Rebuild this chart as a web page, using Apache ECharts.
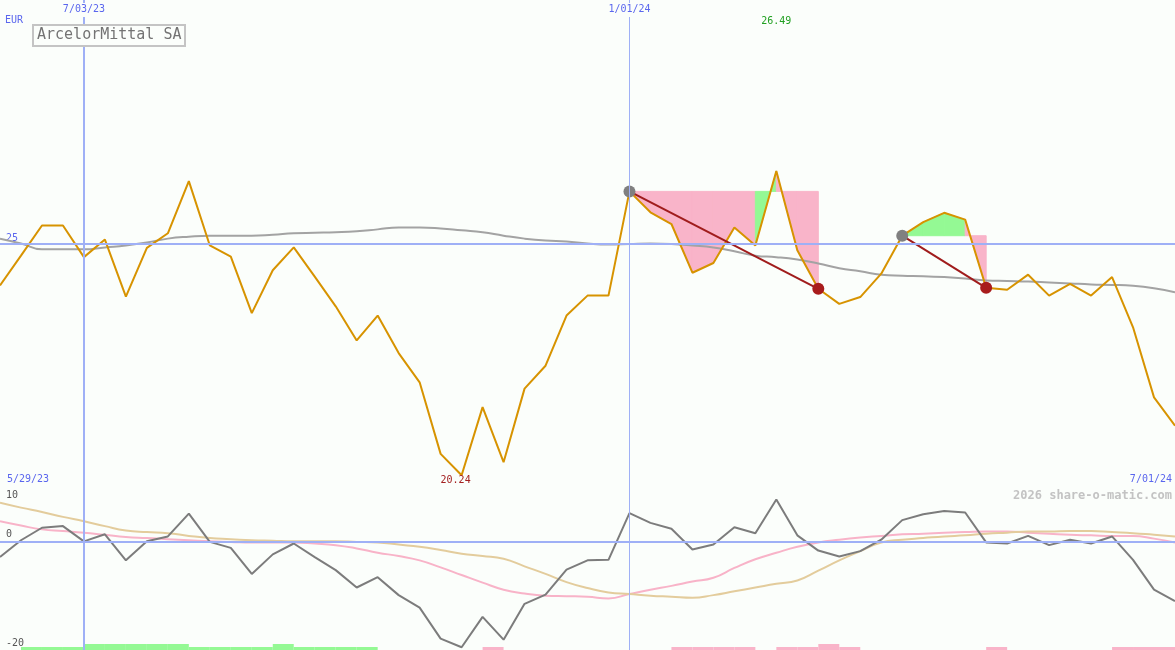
<!DOCTYPE html>
<html><head><meta charset="utf-8">
<script src="https://cdn.jsdelivr.net/npm/echarts@6/dist/echarts.min.js"></script>
<style>html,body{margin:0;padding:0;background:#fbfefb}#c{width:1175px;height:650px}</style>
</head><body><div id="c"></div>
<script>
const dates = ['6/05/23','6/12/23','6/19/23','6/26/23','7/03/23','7/10/23','7/17/23','7/24/23','7/31/23','8/07/23',
'8/14/23','8/21/23','8/28/23','9/04/23','9/11/23','9/18/23','9/25/23','10/02/23','10/09/23','10/16/23',
'10/23/23','10/30/23','11/06/23','11/13/23','11/20/23','11/27/23','12/04/23','12/11/23','12/18/23','12/25/23',
'1/01/24','1/08/24','1/15/24','1/22/24','1/29/24','2/05/24','2/12/24','2/19/24','2/26/24','3/04/24',
'3/11/24','3/18/24','3/25/24','4/01/24','4/08/24','4/15/24','4/22/24','4/29/24','5/06/24','5/13/24',
'5/20/24','5/27/24','6/03/24','6/10/24','6/17/24','6/24/24','7/01/24'];
const markedDates = ['7/03/23','1/01/24'];
const price = [24.14,24.75,25.37,25.37,24.72,25.08,23.91,24.91,25.21,26.28,
24.96,24.73,23.57,24.45,24.92,24.32,23.71,23.01,23.52,22.75,
22.15,20.68,20.24,21.64,20.51,22.02,22.49,23.52,23.93,23.93,
26.07,25.64,25.40,24.40,24.60,25.33,24.96,26.49,24.86,24.07,
23.76,23.90,24.38,25.16,25.44,25.63,25.49,24.09,24.05,24.36,
23.93,24.17,23.93,24.31,23.28,21.84,21.26];
const priceMA = [25.10,25.00,24.88,24.88,24.88,24.92,24.96,25.02,25.10,25.14,
25.16,25.16,25.16,25.18,25.21,25.22,25.23,25.25,25.29,25.33,
25.33,25.31,25.27,25.23,25.16,25.10,25.06,25.04,25.00,24.98,
24.99,25.00,24.99,24.96,24.92,24.84,24.75,24.72,24.67,24.59,
24.49,24.43,24.36,24.34,24.33,24.31,24.28,24.24,24.23,24.22,
24.20,24.18,24.16,24.15,24.13,24.08,24.00];
const momentum = [-2.9,0.2,2.5,2.8,0.0,1.3,-3.5,0.0,0.9,5.1,
-0.1,-1.2,-6.0,-2.4,-0.4,-2.9,-5.3,-8.5,-6.6,-9.9,
-12.2,-17.9,-19.5,-13.9,-18.1,-11.5,-9.8,-5.2,-3.5,-3.4,
5.2,3.4,2.3,-1.5,-0.6,2.6,1.5,7.7,1.1,-1.7,
-2.8,-1.8,0.3,3.9,5.0,5.6,5.3,-0.2,-0.4,1.0,
-0.7,0.3,-0.4,0.9,-3.4,-8.9,-11.0];
const momPink = [3.7,2.9,2.2,1.9,1.6,1.2,0.8,0.6,0.4,0.2,
0.0,-0.1,-0.2,-0.2,-0.2,-0.4,-0.7,-1.3,-2.1,-2.7,
-3.5,-4.8,-6.2,-7.6,-8.9,-9.6,-10.0,-10.1,-10.2,-10.5,
-9.7,-8.9,-8.2,-7.4,-6.7,-4.9,-3.3,-2.1,-1.0,-0.2,
0.3,0.7,1.0,1.3,1.4,1.6,1.7,1.8,1.8,1.6,
1.4,1.2,1.1,1.0,1.0,0.5,-0.2];
const momTan = [7.1,6.2,5.4,4.5,3.7,2.8,2.0,1.7,1.5,1.0,
0.6,0.4,0.2,0.1,0.0,0.0,0.0,-0.1,-0.2,-0.6,
-1.0,-1.6,-2.3,-2.7,-3.2,-4.6,-6.0,-7.5,-8.6,-9.4,
-9.7,-10.0,-10.2,-10.4,-9.9,-9.2,-8.5,-7.8,-7.2,-5.4,
-3.5,-1.8,-0.2,0.3,0.6,0.9,1.1,1.4,1.6,1.8,
1.8,1.9,1.9,1.7,1.5,1.2,0.9];
// trades: entry index, exit index
const trades = [[30,39],[43,47]];
// segment sign inside each trade ('u' = green, 'd' = pink)
const tradeSegments = [['d','d','d','d','d','d','u','d','d'],['u','u','u','d']];
// bottom strip per week interval: 1/2 green thin/tall, -1/-2 pink thin/tall
const stripCodes = [0,1,1,1,2,2,2,2,2,1,1,1,1,2,1,1,1,1,0,0,0,0,0,-1,0,0,0,0,0,0,0,0,-1,-1,-1,-1,0,-1,-1,-2,-1,0,0,0,0,0,0,-1,0,0,0,0,0,-1,-1,-1];
const levelValue = 25;

const BG = '#fbfefb', BLUE = '#5a66ee', LBLUE = '#9fb0f6', MONO = 'DejaVu Sans Mono';
const PINK = '#f9b4c9', GREEN = '#94f994';

const fillData = [];
trades.forEach((t, ti) => {
  const lvl = price[t[0]];
  for (let k = t[0]; k < t[1]; k++) fillData.push([k, lvl, tradeSegments[ti][k - t[0]] === 'u' ? 1 : 0]);
});
const maxIdx = price.indexOf(Math.max(...price));
const minIdx = price.indexOf(Math.min(...price));

const chart = echarts.init(document.getElementById('c'), null, {renderer: 'canvas'});
const vLines = [
  {xAxis: markedDates[0], lineStyle: {width: 2}},
  {xAxis: markedDates[1], lineStyle: {width: 1}}
];
chart.setOption({
  animation: false,
  backgroundColor: BG,
  title: {
    text: 'ArcelorMittal SA', left: 33, top: 25, padding: [3, 4],
    borderColor: '#c4c4c4', borderWidth: 2, backgroundColor: BG,
    textStyle: {fontFamily: MONO, fontSize: 15, color: '#737373', fontWeight: 'normal'}
  },
  grid: [
    {left: 0, right: 0, top: 0, height: 487},
    {left: 0, right: 0, top: 487, height: 163}
  ],
  xAxis: [
    {type: 'category', gridIndex: 0, data: dates, boundaryGap: false, position: 'top', z: 10,
      axisLine: {show: false}, axisTick: {show: false}, splitLine: {show: false},
      axisLabel: {show: true, inside: true, margin: 3, interval: (i, v) => markedDates.includes(v),
        color: BLUE, fontFamily: MONO, fontSize: 10, backgroundColor: BG, padding: [1, 1, 3, 1]}},
    {type: 'category', gridIndex: 1, data: dates, boundaryGap: false, position: 'top',
      axisLine: {show: true, lineStyle: {color: '#7585ea', width: 2}}, axisTick: {show: false},
      axisLabel: {show: false}, splitLine: {show: false}}
  ],
  yAxis: [
    {type: 'value', gridIndex: 0, min: 20, max: 30, interval: 5, splitLine: {show: false},
      axisLine: {show: false}, axisTick: {show: false},
      axisLabel: {inside: true, margin: 6, verticalAlign: 'bottom', color: BLUE, fontFamily: MONO, fontSize: 10,
        formatter: v => v === levelValue ? String(v) : ''}},
    {type: 'value', gridIndex: 1, position: 'left', min: -20, max: 10, interval: 10, splitLine: {show: false},
      axisLine: {show: false}, axisTick: {show: false},
      axisLabel: {inside: true, margin: 6, verticalAlign: 'bottom', color: '#555', fontFamily: MONO, fontSize: 10,
        padding: [0, 0, 2, 0], formatter: v => (v === 0 || v === -20) ? String(v) : ''}},
    {type: 'value', gridIndex: 1, position: 'left', offset: 0, min: -20, max: 10, interval: 10, splitLine: {show: false},
      axisLine: {show: false}, axisTick: {show: false},
      axisLabel: {inside: true, margin: 6, verticalAlign: 'top', color: '#555', fontFamily: MONO, fontSize: 10,
        padding: [3, 0, 0, 0], formatter: v => v === 10 ? String(v) : ''}}
  ],
  graphic: [
    {type: 'text', left: 5, top: 15, style: {text: 'EUR', fill: BLUE, font: '10px ' + MONO}},
    {type: 'text', left: 7, top: 474, style: {text: '5/29/23', fill: BLUE, font: '10px ' + MONO}},
    {type: 'text', right: 3, top: 474, style: {text: dates[dates.length - 1], fill: BLUE, font: '10px ' + MONO}},
    {type: 'text', right: 3, top: 490, style: {text: '2026 share-o-matic.com', fill: '#c3c3c3', font: 'bold 12px ' + MONO}}
  ],
  series: [
    {type: 'custom', xAxisIndex: 0, yAxisIndex: 0, z: 1, silent: true, data: fillData,
      renderItem: (params, api) => {
        const k = api.value(0), lvl = api.value(1), up = api.value(2);
        const p0 = api.coord([k, lvl]), p1 = api.coord([k + 1, lvl]);
        const p2 = api.coord([k + 1, price[k + 1]]), p3 = api.coord([k, price[k]]);
        const col = up ? GREEN : PINK;
        return {type: 'polygon', shape: {points: [p0, p1, p2, p3]}, style: {fill: col, stroke: col, lineWidth: 1}};
      }},
    {type: 'line', xAxisIndex: 0, yAxisIndex: 0, z: 2, data: priceMA, symbol: 'none', smooth: true,
      lineStyle: {color: '#a3a3a3', width: 2}},
    {type: 'line', xAxisIndex: 0, yAxisIndex: 0, z: 3, data: price, symbol: 'none',
      lineStyle: {color: '#d79300', width: 2},
      markLine: {silent: true, symbol: 'none', label: {show: false}, lineStyle: {color: LBLUE, type: 'solid'},
        data: [{yAxis: levelValue, lineStyle: {width: 2}}].concat(vLines)},
      markPoint: {silent: true, symbol: 'circle', symbolSize: 0,
        data: [
          {coord: [maxIdx, 29.57], value: price[maxIdx].toFixed(2),
            label: {show: true, position: 'inside', color: '#22a022', fontFamily: MONO, fontSize: 10}},
          {coord: [minIdx, price[minIdx]], value: price[minIdx].toFixed(2),
            label: {show: true, position: 'bottom', distance: 0, offset: [-6, 0], color: '#a32020', fontFamily: MONO, fontSize: 10}}
        ]}},
    {type: 'custom', xAxisIndex: 0, yAxisIndex: 0, z: 4, silent: true, data: trades,
      renderItem: (params, api) => {
        const s = api.value(0), e = api.value(1);
        const a = api.coord([s, price[s]]), b = api.coord([e, price[e]]);
        return {type: 'group', children: [
          {type: 'line', shape: {x1: a[0], y1: a[1], x2: b[0], y2: b[1]}, style: {stroke: '#a01c1c', lineWidth: 2}},
          {type: 'circle', shape: {cx: a[0], cy: a[1], r: 6}, style: {fill: '#808080'}},
          {type: 'circle', shape: {cx: b[0], cy: b[1], r: 6}, style: {fill: '#a81c1c'}}
        ]};
      }},
    {type: 'line', xAxisIndex: 1, yAxisIndex: 1, z: 2, data: momPink, symbol: 'none', smooth: true,
      lineStyle: {color: '#f8b3c8', width: 2},
      markLine: {silent: true, symbol: 'none', label: {show: false}, lineStyle: {color: LBLUE, type: 'solid'},
        data: [{yAxis: 0, lineStyle: {width: 2}}].concat(vLines)}},
    {type: 'line', xAxisIndex: 1, yAxisIndex: 1, z: 2, data: momTan, symbol: 'none', smooth: true,
      lineStyle: {color: '#e3cc9c', width: 2}},
    {type: 'line', xAxisIndex: 1, yAxisIndex: 1, z: 3, data: momentum, symbol: 'none',
      lineStyle: {color: '#7c7c7c', width: 2}},
    {type: 'custom', xAxisIndex: 1, yAxisIndex: 1, z: 4, silent: true,
      data: stripCodes.map((c, i) => [i, c]),
      renderItem: (params, api) => {
        const i = api.value(0), c = api.value(1);
        if (!c) return null;
        const a = api.coord([i, -20]), b = api.coord([i + 1, -20]);
        const h = Math.abs(c) === 2 ? 6 : 3;
        return {type: 'rect', shape: {x: a[0], y: a[1] - h, width: b[0] - a[0], height: h},
          style: {fill: c > 0 ? GREEN : PINK}};
      }}
  ]
});
</script></body></html>
